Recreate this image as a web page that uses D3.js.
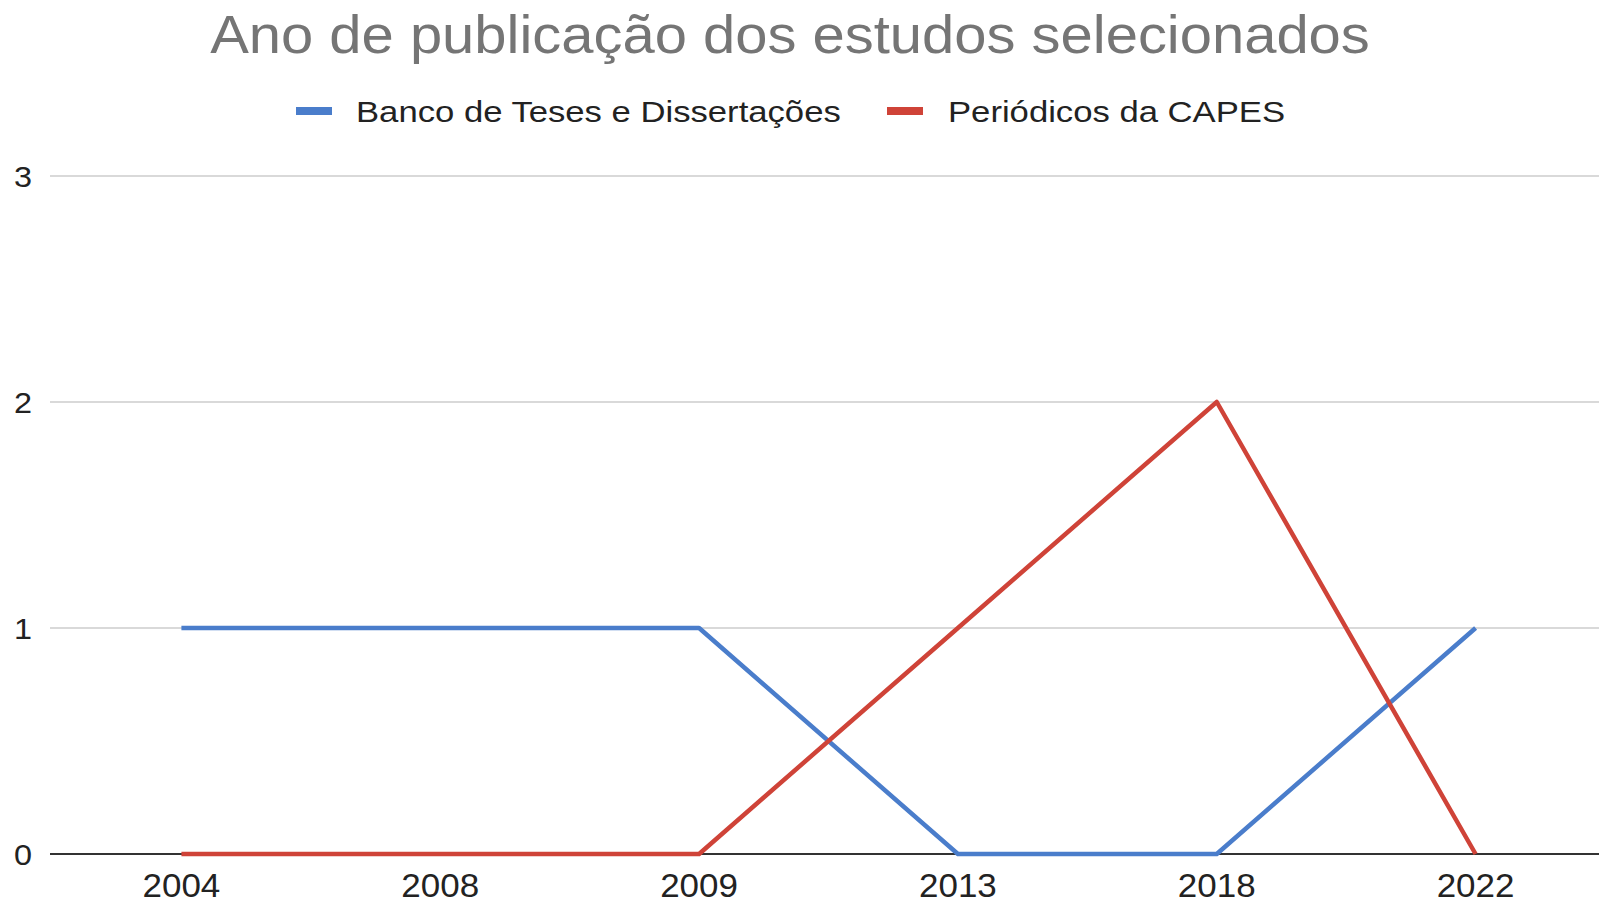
<!DOCTYPE html>
<html>
<head>
<meta charset="utf-8">
<script src="https://cdn.jsdelivr.net/npm/d3@7"></script>
<style>
  body { margin: 0; background: #fff; }
  svg { display: block; font-family: "Liberation Sans", Arial, sans-serif; }
</style>
</head>
<body>
<svg id="chart" width="1599" height="903"></svg>
<script>
// data
const years = ["2004", "2008", "2009", "2013", "2018", "2022"];
const bancoTeses = [1, 1, 1, 0, 0, 1];
const periodicosCapes = [0, 0, 0, 1, 2, 0];
const yTicks = [0, 1, 2, 3];
const seriesNames = ["Banco de Teses e Dissertações", "Periódicos da CAPES"];
const seriesColors = ["#4a7dcb", "#cf4338"];

const svg = d3.select("#chart");
const W = 1599, H = 903;

// the source picture is a bit wider than tall, so text gets stretched
function stretch(sel, k) {
  sel.each(function () {
    const len = this.getComputedTextLength();
    d3.select(this)
      .attr("textLength", len * k)
      .attr("lengthAdjust", "spacingAndGlyphs");
  });
}

const x = d3.scaleBand()
  .domain(years)
  .range([52, 1605]);

const y = d3.scaleLinear()
  .domain([0, 3])
  .range([854, 176]);

// title
svg.append("text")
  .attr("x", 790)
  .attr("y", 53)
  .attr("text-anchor", "middle")
  .attr("fill", "#757575")
  .style("font-size", "54px")
  .text("Ano de publicação dos estudos selecionados")
  .call(stretch, 1.073);

// legend
const legend = [
  { name: seriesNames[0], color: seriesColors[0], sx: 296, tx: 356 },
  { name: seriesNames[1], color: seriesColors[1], sx: 887, tx: 948 }
];
legend.forEach(l => {
  svg.append("rect")
    .attr("x", l.sx).attr("y", 107)
    .attr("width", 36).attr("height", 8)
    .attr("fill", l.color);
  svg.append("text")
    .attr("x", l.tx).attr("y", 122)
    .attr("fill", "#222")
    .style("font-size", "30px")
    .text(l.name)
    .call(stretch, 1.155);
});

// gridlines
svg.append("g")
  .selectAll("line")
  .data(yTicks.filter(d => d > 0))
  .join("line")
    .attr("x1", 50).attr("x2", W)
    .attr("y1", d => y(d)).attr("y2", d => y(d))
    .attr("stroke", "#cccccc")
    .attr("stroke-width", 1.5);

// y labels
svg.append("g")
  .selectAll("text")
  .data(yTicks)
  .join("text")
    .attr("x", 32)
    .attr("y", d => y(d) + 11)
    .attr("text-anchor", "end")
    .attr("fill", "#222")
    .style("font-size", "30px")
    .text(d => d)
    .call(stretch, 1.08);

// x labels
svg.append("g")
  .selectAll("text")
  .data(years)
  .join("text")
    .attr("x", d => x(d) + x.bandwidth() / 2)
    .attr("y", 897)
    .attr("text-anchor", "middle")
    .attr("fill", "#222")
    .style("font-size", "33px")
    .text(d => d)
    .call(stretch, 1.06);

// baseline (under the series, as in the source)
svg.append("line")
  .attr("x1", 50).attr("x2", W)
  .attr("y1", y(0)).attr("y2", y(0))
  .attr("stroke", "#333")
  .attr("stroke-width", 2);

// lines
const line = d3.line()
  .x((d, i) => x(years[i]) + x.bandwidth() / 2)
  .y(d => y(d));

[bancoTeses, periodicosCapes].forEach((s, i) => {
  svg.append("path")
    .datum(s)
    .attr("d", line)
    .attr("fill", "none")
    .attr("stroke", seriesColors[i])
    .attr("stroke-width", 4.5)
    .attr("stroke-linejoin", "round");
});
</script>
</body>
</html>
